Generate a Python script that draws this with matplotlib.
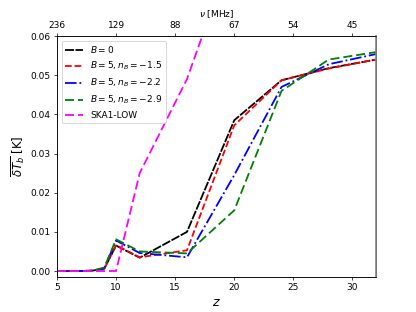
import numpy as np
import matplotlib
matplotlib.use("Agg")
import matplotlib.pyplot as plt

# redshift grid and brightness temperature (K)
z = [5, 6, 7, 8, 9, 10, 12, 16, 20, 24, 28, 32]
dTb_B0 = [0.0, 0.0, 0.0, 0.0001, 0.0006, 0.0065, 0.0034, 0.0100, 0.0385, 0.0487, 0.0518, 0.0540]
dTb_n15 = [0.0, 0.0, 0.0, 0.0001, 0.0006, 0.0066, 0.0035, 0.0053, 0.0372, 0.0487, 0.0517, 0.0540]
dTb_n22 = [0.0, 0.0, 0.0, 0.0001, 0.0007, 0.0078, 0.0046, 0.0035, 0.0245, 0.0470, 0.0528, 0.0554]
dTb_n29 = [0.0, 0.0, 0.0, 0.0001, 0.0009, 0.0081, 0.0050, 0.0045, 0.0155, 0.0460, 0.0540, 0.0559]

z_ska = [5, 6, 7, 8, 9, 10, 12, 16, 18]
dTb_ska = [0.0, 0.0, 0.0, 0.0, 0.0, 0.0, 0.025, 0.049, 0.066]

nu_ticks = [5, 10, 15, 20, 25, 30]
nu_labels = ["236", "129", "88", "67", "54", "45"]


fig = plt.figure(figsize=(6.4, 4.8), dpi=65)
ax = fig.add_axes([0.137, 0.1125, 0.767, 0.772])

ax.plot(z, dTb_B0, color='k', lw=2, dashes=(5, 0.8), label=r'$B=0$')
ax.plot(z, dTb_n15, color='r', lw=2, ls='--', label=r'$B=5, n_B=-1.5$')
ax.plot(z, dTb_n22, color='b', lw=2, ls='-.', label=r'$B=5, n_B=-2.2$')
ax.plot(z, dTb_n29, color='g', lw=2, dashes=(5, 2.2), label=r'$B=5, n_B=-2.9$')
ax.plot(z_ska, dTb_ska, color='magenta', lw=2, dashes=(5, 2.2), label='SKA1-LOW')

ax.set_xlim(5, 32)
ax.set_ylim(-0.0015, 0.06)
ax.set_xticks([5, 10, 15, 20, 25, 30])
ax.set_xlabel(r'$z$', fontsize=14)
ax.set_ylabel(r'$\overline{\delta T_b}$ [K]', fontsize=13)
ax.legend(loc='upper left')

ax2 = ax.twiny()
ax2.set_xlim(ax.get_xlim())
ax2.set_xticks(nu_ticks)
ax2.set_xticklabels(nu_labels)
ax2.set_xlabel(r'$\nu$ [MHz]')
ax2.spines['right'].set_color('0.5')
ax2.spines['right'].set_linewidth(1.8)

fig.savefig('out.png', dpi=65)
